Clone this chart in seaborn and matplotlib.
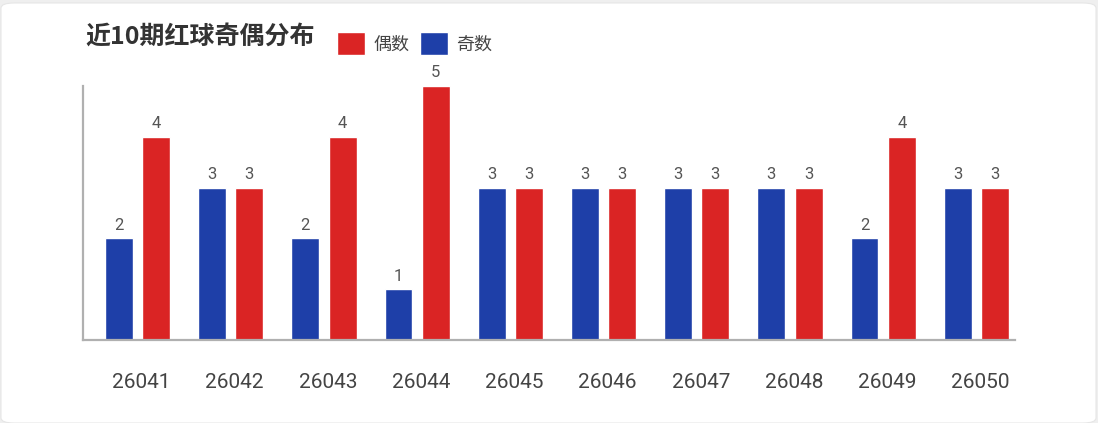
import pandas as pd
import matplotlib
matplotlib.use("Agg")
import matplotlib.pyplot as plt
import seaborn as sns
from matplotlib.patches import FancyBboxPatch
from matplotlib.transforms import ScaledTranslation

# data
periods = ["26041", "26042", "26043", "26044", "26045",
           "26046", "26047", "26048", "26049", "26050"]
odd_counts = [2, 3, 2, 1, 3, 3, 3, 3, 2, 3]    # 奇数
even_counts = [4, 3, 4, 5, 3, 3, 3, 3, 4, 3]   # 偶数
title = "近10期红球奇偶分布"

RED = "#da2424"
BLUE = "#1e3fa8"

df = pd.DataFrame({
    "period": periods * 2,
    "kind": ["奇数"] * len(periods) + ["偶数"] * len(periods),
    "count": odd_counts + even_counts,
})

sns.set_theme(style="white")
plt.rcParams["font.family"] = ["Roboto", "Noto Sans CJK SC", "DejaVu Sans"]

W, H = 1098, 423
fig = plt.figure(figsize=(W / 100, H / 100), dpi=100)
fig.patch.set_facecolor("#efefef")
card = FancyBboxPatch((1 / W, 0), 1 - 3 / W, 1 - 3 / H,
                      boxstyle="round,pad=0,rounding_size=0.012",
                      transform=fig.transFigure, facecolor="white",
                      edgecolor="#e6e6e6", linewidth=0.8, zorder=-5)
fig.patches.append(card)

ax = fig.add_axes([83 / W, 83 / H, 932 / W, 254 / H])
ax.set_facecolor("none")
sns.barplot(data=df, x="period", y="count", hue="kind",
            hue_order=["奇数", "偶数"], palette=[BLUE, RED], saturation=1,
            width=0.8, gap=0.25, ax=ax, legend=False)

for cont in ax.containers:
    ax.bar_label(cont, padding=4, fontsize=12, color="#555555")

ax.set_xlim(-0.585, 9.415)
ax.set_ylim(0, 5)
ax.set_xlabel("")
ax.set_ylabel("")
ax.set_yticks([])
ax.tick_params(axis="x", length=0, pad=24, labelsize=15, labelcolor="#444444")
# labels sit a few pixels right of the group centre in the original
shift = ScaledTranslation(4 / 100, 0, fig.dpi_scale_trans)
for lab in ax.get_xticklabels():
    lab.set_transform(lab.get_transform() + shift)
for side in ["top", "right"]:
    ax.spines[side].set_visible(False)
for side in ["left", "bottom"]:
    ax.spines[side].set_color("#b0b0b0")
    ax.spines[side].set_linewidth(1.6)

fig.text(85 / W, 1 - 37 / H, title, ha="left", va="center",
         fontsize=18, fontweight="bold", color="#333333",
         family=["Noto Sans CJK SC", "DejaVu Sans"])

# legend: 偶数 first, then 奇数
handles = [ax.containers[1].patches[0], ax.containers[0].patches[0]]
fig.legend(handles, ["偶数", "奇数"], loc="upper left",
           bbox_to_anchor=(337 / W, 1 - 32 / H), ncol=2, frameon=False,
           handlelength=1.55, handleheight=1.55,
           handletextpad=0.45, columnspacing=0.6, borderpad=0,
           borderaxespad=0, labelcolor="#444444",
           prop={"family": ["Noto Sans CJK SC", "DejaVu Sans"], "size": 13})

fig.savefig("out.png", dpi=100)
